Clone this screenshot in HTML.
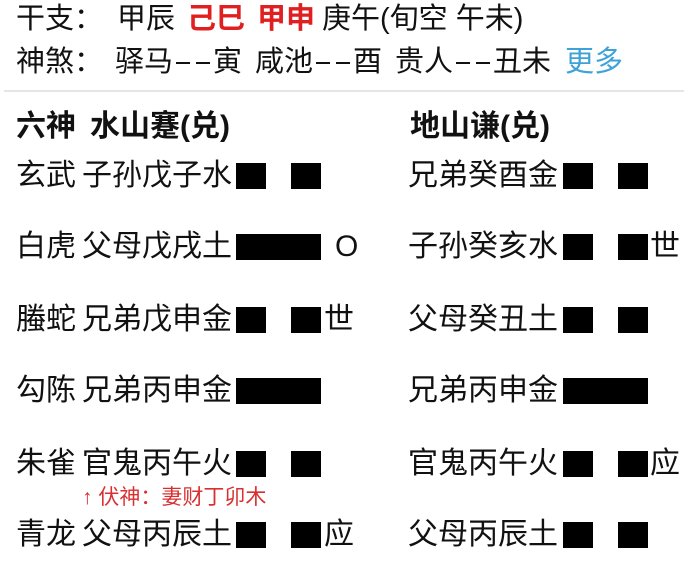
<!DOCTYPE html>
<html><head><meta charset="utf-8"><style>
body{margin:0;width:700px;height:570px;background:#fff;position:relative;overflow:hidden;font-family:"Liberation Sans","Noto Sans CJK SC",sans-serif;color:#111}
.t{position:absolute;white-space:nowrap;font-size:30px;line-height:32px}
.b{position:absolute;background:#000;height:26px}
.r{color:#e02020;font-weight:bold}
.hd{font-weight:bold}
.d{display:inline-block;width:14px;height:2px;background:#111;margin:0 3px;vertical-align:middle}
</style></head><body>
<div class="t" style="left:16px;top:3px;font-size:29px">干支：</div>
<div class="t" style="left:117px;top:3px;font-size:29px">甲辰</div>
<div class="t r" style="left:187px;top:3px;font-size:29px">己巳</div>
<div class="t r" style="left:257px;top:3px;font-size:29px">甲申</div>
<div class="t" style="left:322px;top:3px;font-size:29px">庚午(旬空 午未)</div>
<div class="t" style="left:16px;top:46px;font-size:29px">神煞：</div>
<div class="t" style="left:115px;top:46px;font-size:29px">驿马<span class="d"></span><span class="d"></span>寅</div>
<div class="t" style="left:255px;top:46px;font-size:29px">咸池<span class="d"></span><span class="d"></span>酉</div>
<div class="t" style="left:395px;top:46px;font-size:29px">贵人<span class="d"></span><span class="d"></span>丑未</div>
<div class="t" style="left:565px;top:46px;font-size:29px;color:#3da2d8">更多</div>
<div style="position:absolute;left:4px;top:90px;width:680px;height:2px;background:#e6e6e6"></div>
<div class="t hd" style="left:16px;top:111px">六神</div>
<div class="t hd" style="left:90px;top:111px">水山蹇(兑)</div>
<div class="t hd" style="left:410px;top:111px">地山谦(兑)</div>

<div class="t" style="left:16px;top:160px">玄武</div><div class="t" style="left:82px;top:160px">子孙戊子水</div>
<div class="b" style="left:236px;top:163px;width:30px"></div><div class="b" style="left:291px;top:163px;width:30px"></div>
<div class="t" style="left:408px;top:160px">兄弟癸酉金</div>
<div class="b" style="left:563px;top:163px;width:30px"></div><div class="b" style="left:618px;top:163px;width:30px"></div>

<div class="t" style="left:16px;top:231px">白虎</div><div class="t" style="left:82px;top:231px">父母戊戌土</div>
<div class="b" style="left:236px;top:234px;width:85px"></div>
<div class="t" style="left:335px;top:231px">O</div>
<div class="t" style="left:408px;top:231px">子孙癸亥水</div>
<div class="b" style="left:563px;top:234px;width:30px"></div><div class="b" style="left:618px;top:234px;width:30px"></div>
<div class="t" style="left:650px;top:231px">世</div>

<div class="t" style="left:16px;top:304px">螣蛇</div><div class="t" style="left:82px;top:304px">兄弟戊申金</div>
<div class="b" style="left:236px;top:307px;width:30px"></div><div class="b" style="left:291px;top:307px;width:30px"></div>
<div class="t" style="left:324px;top:304px">世</div>
<div class="t" style="left:408px;top:304px">父母癸丑土</div>
<div class="b" style="left:563px;top:307px;width:30px"></div><div class="b" style="left:618px;top:307px;width:30px"></div>

<div class="t" style="left:16px;top:375px">勾陈</div><div class="t" style="left:82px;top:375px">兄弟丙申金</div>
<div class="b" style="left:236px;top:378px;width:85px"></div>
<div class="t" style="left:408px;top:375px">兄弟丙申金</div>
<div class="b" style="left:563px;top:378px;width:85px"></div>

<div class="t" style="left:16px;top:448px">朱雀</div><div class="t" style="left:82px;top:448px">官鬼丙午火</div>
<div class="b" style="left:236px;top:451px;width:30px"></div><div class="b" style="left:291px;top:451px;width:30px"></div>
<div class="t" style="left:408px;top:448px">官鬼丙午火</div>
<div class="b" style="left:563px;top:451px;width:30px"></div><div class="b" style="left:618px;top:451px;width:30px"></div>
<div class="t" style="left:650px;top:448px">应</div>

<div class="t" style="left:82px;top:485px;font-size:21px;line-height:26px;color:#d83030">↑ 伏神：妻财丁卯木</div>

<div class="t" style="left:16px;top:519px">青龙</div><div class="t" style="left:82px;top:519px">父母丙辰土</div>
<div class="b" style="left:236px;top:522px;width:30px"></div><div class="b" style="left:291px;top:522px;width:30px"></div>
<div class="t" style="left:324px;top:519px">应</div>
<div class="t" style="left:408px;top:519px">父母丙辰土</div>
<div class="b" style="left:563px;top:522px;width:30px"></div><div class="b" style="left:618px;top:522px;width:30px"></div>
</body></html>
